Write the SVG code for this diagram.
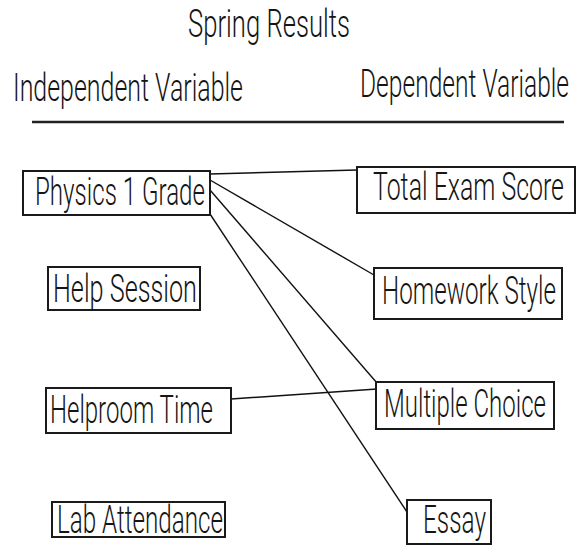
<svg xmlns="http://www.w3.org/2000/svg" width="578" height="547" viewBox="0 0 578 547">
  <style>
    text { font-family: Roboto, "Liberation Sans", "DejaVu Sans", Arial, sans-serif; font-weight: 300; font-size: 38px; fill: #151515; }
    .box { fill: #ffffff; stroke: #1a1a1a; stroke-width: 2; }
    .link { stroke: #111111; stroke-width: 1.4; fill: none; }
    .rule { stroke: #222222; stroke-width: 2.5; }
  </style>
  <rect width="578" height="547" fill="#ffffff"/>

  <!-- headings -->
  <g id="headings">
    <text x="188" y="37" textLength="162" lengthAdjust="spacingAndGlyphs">Spring Results</text>
    <text x="13" y="101" textLength="230" lengthAdjust="spacingAndGlyphs">Independent Variable</text>
    <text x="360" y="97" textLength="209" lengthAdjust="spacingAndGlyphs">Dependent Variable</text>
    <line class="rule" x1="32" y1="122" x2="564" y2="122"/>
  </g>

  <!-- connectors -->
  <g id="connectors">
    <line class="link" x1="210" y1="174" x2="357" y2="170"/>
    <line class="link" x1="210" y1="180" x2="374" y2="275"/>
    <line class="link" x1="210" y1="190" x2="377" y2="383"/>
    <line class="link" x1="210" y1="214" x2="407" y2="512"/>
    <line class="link" x1="231" y1="399" x2="377" y2="389"/>
  </g>

  <!-- independent variables -->
  <g id="physics-grade">
    <rect class="box" x="23" y="171" width="187" height="44"/>
    <text x="35" y="205" textLength="170" lengthAdjust="spacingAndGlyphs">Physics 1 Grade</text>
  </g>
  <g id="help-session">
    <rect class="box" x="48" y="267" width="152" height="43"/>
    <text x="53" y="302" textLength="144" lengthAdjust="spacingAndGlyphs">Help Session</text>
  </g>
  <g id="helproom-time">
    <rect class="box" x="46" y="388" width="185" height="45"/>
    <text x="50" y="423" textLength="163" lengthAdjust="spacingAndGlyphs">Helproom Time</text>
  </g>
  <g id="lab-attendance">
    <rect class="box" x="52" y="502" width="173" height="35"/>
    <text x="57" y="533" textLength="166" lengthAdjust="spacingAndGlyphs">Lab Attendance</text>
  </g>

  <!-- dependent variables -->
  <g id="total-exam-score">
    <rect class="box" x="357" y="167" width="218" height="46"/>
    <text x="373" y="200" textLength="191" lengthAdjust="spacingAndGlyphs">Total Exam Score</text>
  </g>
  <g id="homework-style">
    <rect class="box" x="374" y="268" width="188" height="51"/>
    <text x="382" y="304" textLength="174" lengthAdjust="spacingAndGlyphs">Homework Style</text>
  </g>
  <g id="multiple-choice">
    <rect class="box" x="376" y="382" width="178" height="47"/>
    <text x="384" y="417" textLength="162" lengthAdjust="spacingAndGlyphs">Multiple Choice</text>
  </g>
  <g id="essay">
    <rect class="box" x="407" y="500" width="84" height="44"/>
    <text x="423" y="533" textLength="63" lengthAdjust="spacingAndGlyphs">Essay</text>
  </g>
</svg>
